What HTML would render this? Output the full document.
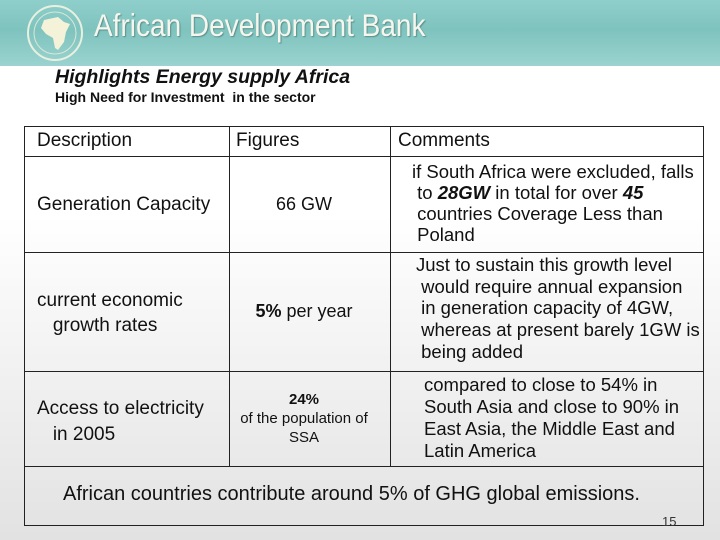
<!DOCTYPE html>
<html><head><meta charset="utf-8"><style>
body{margin:0;width:720px;height:540px;overflow:hidden;font-family:"Liberation Sans",sans-serif;position:relative;background:linear-gradient(#fff 0%,#fff 40%,#e2e2e2 100%);}
.hdr{position:absolute;left:0;top:0;width:720px;height:66px;background:linear-gradient(#8fcfcb,#7fc3be 45%,#9ad3cf);}
.t{position:absolute;color:#111;white-space:nowrap;}
.ln{position:absolute;background:#222;}
</style></head><body>
<div class="hdr"></div>
<svg style="position:absolute;left:26px;top:4px" width="58" height="58">
<circle cx="29" cy="29" r="27" fill="none" stroke="#e8f0e0" stroke-width="2"/>
<circle cx="29" cy="29" r="21" fill="none" stroke="#d8e8d8" stroke-width="1"/>
<path d="M18 16 L32 13 L38 18 L44 20 L40 28 L38 38 L32 46 L29 44 L27 34 L20 30 L15 24 Z" fill="#f4f2d8"/>
</svg>
<div class="t" style="left:94px;top:8px;font-size:28px;color:#f6f6ee;text-shadow:1px 1px 1px #5a8f8a;transform:scaleY(1.12);transform-origin:left top">African Development Bank</div>
<div class="t" style="left:55px;top:66px;font-size:19.5px;font-weight:bold;font-style:italic">Highlights Energy supply Africa</div>
<div class="t" style="left:55px;top:89px;font-size:14px;font-weight:bold">High Need for Investment&nbsp; in the sector</div>

<div>
<div class="ln" style="left:24px;top:126px;width:680px;height:1px"></div>
<div class="ln" style="left:24px;top:156px;width:680px;height:1px"></div>
<div class="ln" style="left:24px;top:252px;width:680px;height:1px"></div>
<div class="ln" style="left:24px;top:371px;width:680px;height:1px"></div>
<div class="ln" style="left:24px;top:466px;width:680px;height:1px"></div>
<div class="ln" style="left:24px;top:525px;width:680px;height:1px"></div>
<div class="ln" style="left:24px;top:126px;width:1px;height:400px"></div>
<div class="ln" style="left:703px;top:126px;width:1px;height:400px"></div>
<div class="ln" style="left:229px;top:126px;width:1px;height:340px"></div>
<div class="ln" style="left:390px;top:126px;width:1px;height:340px"></div>
</div>

<div class="t" style="left:37px;top:130px;font-size:19px">Description</div>
<div class="t" style="left:236px;top:130px;font-size:19px">Figures</div>
<div class="t" style="left:398px;top:130px;font-size:19px">Comments</div>

<div class="t" style="left:37px;top:194px;font-size:19px">Generation Capacity</div>
<div class="t" style="left:214px;width:180px;text-align:center;top:194px;font-size:18px">66 GW</div>
<div class="t" style="left:412px;top:161px;font-size:18.5px;line-height:21px">if South Africa were excluded, falls<br>&nbsp;to <b><i>28GW</i></b> in total for over <b><i>45</i></b><br>&nbsp;countries Coverage Less than<br>&nbsp;Poland</div>

<div class="t" style="left:37px;top:288px;font-size:19px;line-height:25px">current economic<br>&nbsp;&nbsp;&nbsp;growth rates</div>
<div class="t" style="left:214px;width:180px;text-align:center;top:301px;font-size:18px"><b>5%</b> per year</div>
<div class="t" style="left:416px;top:254px;font-size:18.5px;line-height:21.7px">Just to sustain this growth level<br>&nbsp;would require annual expansion<br>&nbsp;in generation capacity of 4GW,<br>&nbsp;whereas at present barely 1GW is<br>&nbsp;being added</div>

<div class="t" style="left:37px;top:396px;font-size:19px;line-height:26px">Access to electricity<br>&nbsp;&nbsp;&nbsp;in 2005</div>
<div class="t" style="left:214px;width:180px;text-align:center;top:390px;font-size:15px;line-height:19px"><b>24%</b><br>of the population of<br>SSA</div>
<div class="t" style="left:424px;top:374px;font-size:18.5px;line-height:22px">compared to close to 54% in<br>South Asia and close to 90% in<br>East Asia, the Middle East and<br>Latin America</div>

<div class="t" style="left:63px;top:483px;font-size:20px">African countries contribute around 5% of GHG global emissions.</div>
<div class="t" style="left:662px;top:514px;font-size:13px;color:#333">15</div>
</body></html>
